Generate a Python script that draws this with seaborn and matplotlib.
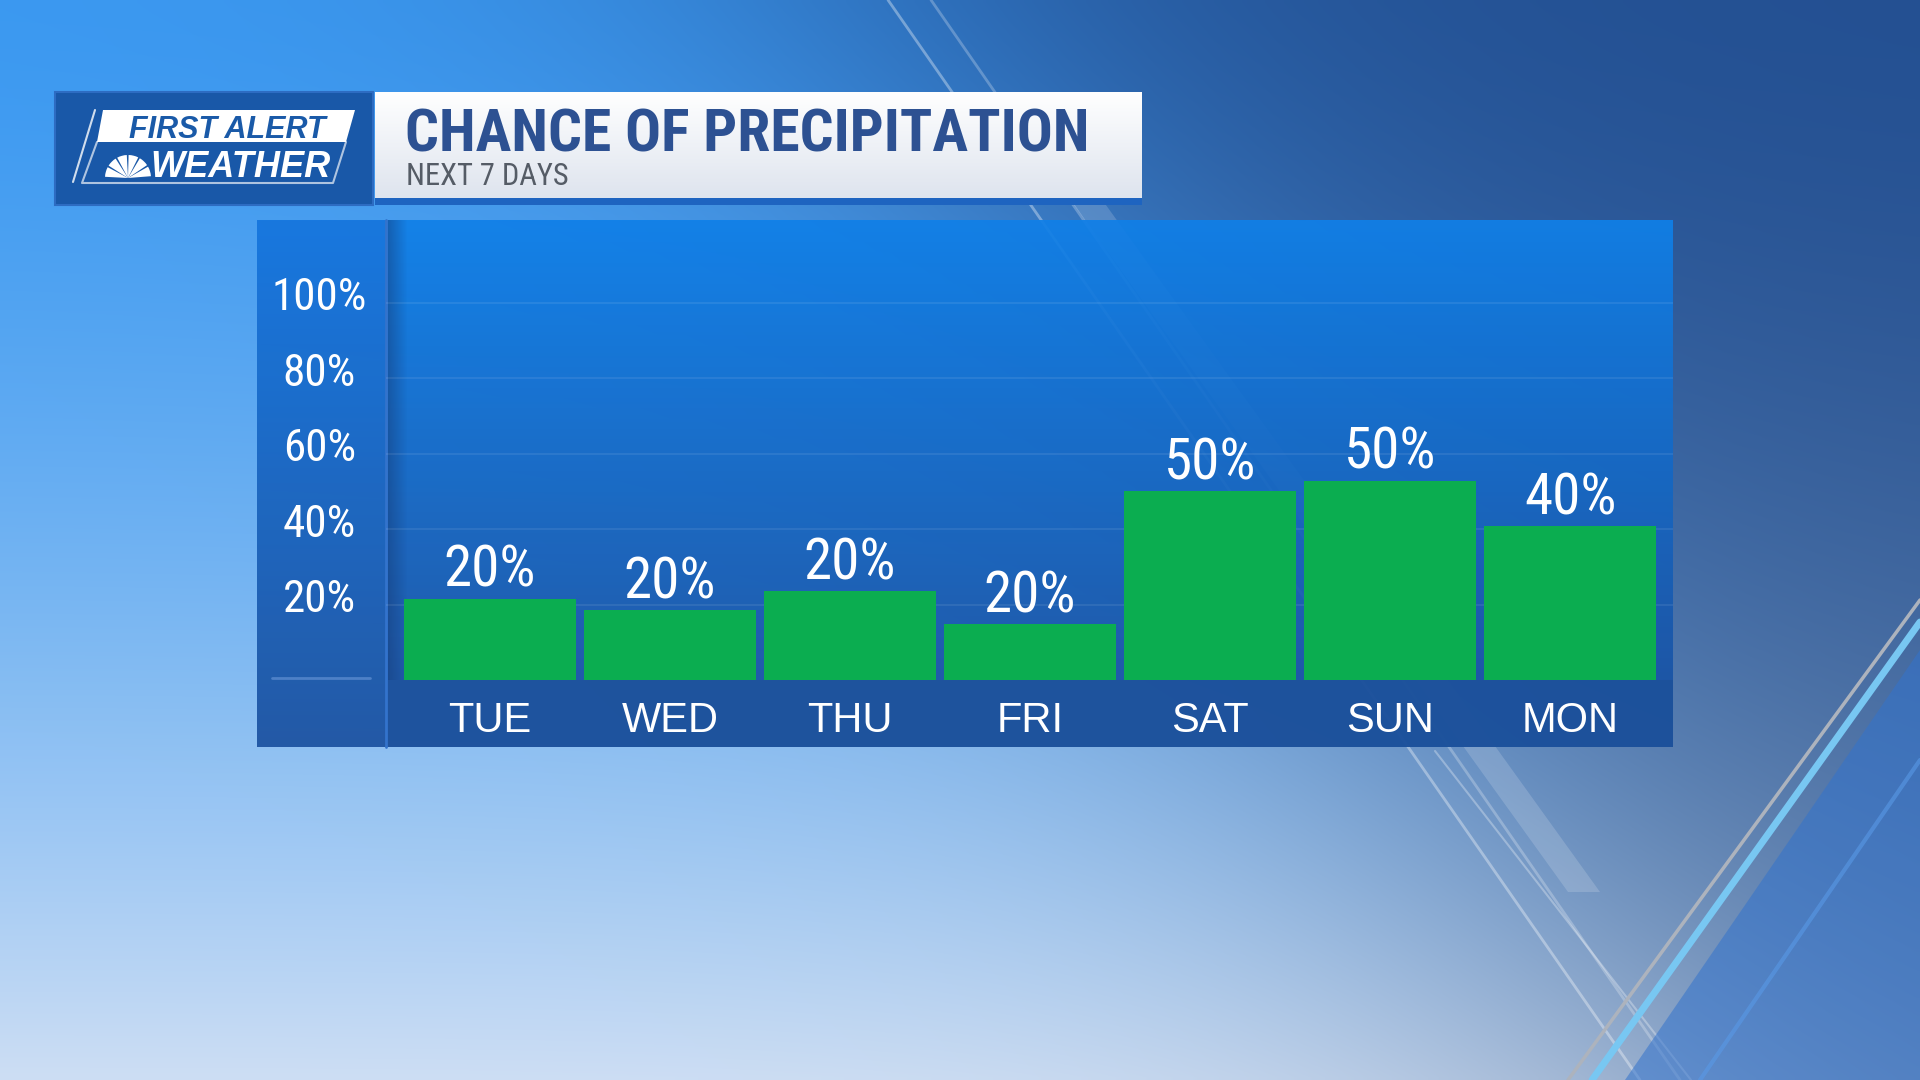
import numpy as np
import matplotlib
matplotlib.use("Agg")
import matplotlib.pyplot as plt
from matplotlib import font_manager
from matplotlib.patches import Rectangle, Polygon, Wedge
from matplotlib.transforms import ScaledTranslation
import seaborn as sns

# chart data
days = ["TUE", "WED", "THU", "FRI", "SAT", "SUN", "MON"]
bar_heights = [21.5, 18.5, 23.5, 14.8, 50.0, 52.8, 40.8]
value_labels = ["20%", "20%", "20%", "20%", "50%", "50%", "40%"]
y_ticks = [20, 40, 60, 80, 100]
y_tick_labels = ["20%", "40%", "60%", "80%", "100%"]

title = "CHANCE OF PRECIPITATION"
subtitle = "NEXT 7 DAYS"
logo_top = "FIRST ALERT"
logo_bottom = "WEATHER"

sns.set_style("white")
installed = {f.name for f in font_manager.fontManager.ttflist}
narrow = next((n for n in ["Liberation Sans Narrow", "Roboto Condensed",
                           "DejaVu Sans Condensed", "Open Sans Condensed"] if n in installed),
              "Liberation Sans")
plt.rcParams["font.family"] = ["Liberation Sans", "DejaVu Sans"]

GREEN = "#0bad50"


def vgrad(top, bottom, n=200):
    t = np.linspace(0, 1, n)[:, None, None]
    top = np.array(top, float)[None, None, :] / 255
    bottom = np.array(bottom, float)[None, None, :] / 255
    return top * (1 - t) + bottom * t


fig = plt.figure(figsize=(19.2, 10.8), dpi=100)
renderer = fig.canvas.get_renderer()


def fit_width(txt, width_px, max_size):
    # shrink a text so its width matches the reference
    bb = txt.get_window_extent(renderer)
    txt.set_fontsize(min(max_size, txt.get_fontsize() * width_px / bb.width))


# ---- background (pixel coordinates, y down) ----
bg = fig.add_axes([0, 0, 1, 1])
bg.axis("off")

H, W = 216, 384
yy, xx = np.mgrid[0:H, 0:W]
px = xx / (W - 1) * 1920
py = yy / (H - 1) * 1080
v = (py / 1080)[..., None] ** 1.5
left = np.array([60, 154, 242]) * (1 - v) + np.array([205, 222, 244]) * v
right = np.array([36, 80, 146]) * (1 - v) + np.array([100, 128, 168]) * v
d = ((px - 880) * 1080 - py * 760) / np.hypot(1080, 760)
w = (1 / (1 + np.exp(-d / 170)))[..., None]
img = (left * (1 - w) + right * w) / 255
bg.imshow(img, extent=(0, 1920, 1080, 0), aspect="auto", interpolation="bilinear", zorder=0)

# diagonal streaks
bg.plot([888, 1640], [0, 1080], color="white", alpha=0.35, lw=2, zorder=1)
bg.plot([931, 1680], [0, 1080], color="white", alpha=0.25, lw=2, zorder=1)
bg.add_patch(Polygon([(1020, 130), (1052, 130), (1600, 892), (1568, 892)],
                     closed=True, color="white", alpha=0.16, lw=0, zorder=1))
bg.plot([1435, 1691], [751, 1080], color="white", alpha=0.3, lw=1.5, zorder=1)
bg.add_patch(Polygon([(1920, 650), (1920, 1080), (1625, 1080)],
                     closed=True, color=(0.2, 0.45, 0.8), alpha=0.55, lw=0, zorder=1))
bg.plot([1920, 1568], [600, 1080], color=(0.68, 0.70, 0.74), lw=2.5, zorder=1)
bg.plot([1920, 1592], [622, 1080], color=(0.47, 0.78, 0.95), lw=5, zorder=1)
bg.plot([1920, 1700], [760, 1080], color=(0.35, 0.6, 0.9), alpha=0.6, lw=3, zorder=1)

# chart panels
bg.imshow(vgrad((22, 118, 222), (30, 84, 162)), extent=(257, 386, 747, 220),
          aspect="auto", alpha=0.95, zorder=2)
bg.imshow(vgrad((16, 128, 232), (26, 84, 166)), extent=(386, 1673, 680, 220),
          aspect="auto", alpha=0.93, zorder=2)
bg.imshow(np.linspace([0.08, 0.22, 0.45, 0.45], [0.08, 0.22, 0.45, 0.0], 20)[None, :, :],
          extent=(388, 408, 680, 220), aspect="auto", zorder=2)
bg.add_patch(Rectangle((386, 680), 1287, 67, color=(27 / 255, 80 / 255, 155 / 255),
                       alpha=0.97, lw=0, zorder=2))
bg.plot([386, 386], [220, 747], color=(0.2, 0.45, 0.8), lw=2, zorder=3)
bg.plot([272, 370], [678, 678], color=(0.3, 0.5, 0.78), lw=2, zorder=3)

# header: logo box
bg.add_patch(Rectangle((55, 92), 318, 113, facecolor="#1958a8", edgecolor="#2d6cc2",
                       lw=1.5, zorder=4))
bg.add_patch(Polygon([(103, 110), (355, 110), (346, 142), (97, 142)], closed=True,
                     color="white", lw=0, zorder=5))
bg.plot([97, 82, 333, 346], [142, 183, 183, 142], color="white", alpha=0.65, lw=1.5, zorder=5)
bg.plot([95, 73], [110, 182], color="white", alpha=0.8, lw=1.5, zorder=5)
t_first = bg.text(227, 138, logo_top, ha="center", va="baseline", fontsize=22,
                  fontweight="bold", fontstyle="italic", color="#1a5aa8", zorder=6)
fit_width(t_first, 222, 22)
bg.text(150, 177, logo_bottom, ha="left", va="baseline", fontsize=26,
        fontweight="bold", fontstyle="italic", color="white", zorder=6)
for i in range(6):
    t1 = 183 + i * 29.5
    bg.add_patch(Wedge((128, 178), 23, t1, t1 + 25, color="white", lw=0, zorder=6))

# header: title box
bg.imshow(vgrad((255, 255, 255), (222, 228, 238)), extent=(375, 1142, 198, 92),
          aspect="auto", zorder=4)
bg.add_patch(Rectangle((375, 198), 767, 7, color="#1e64c0", lw=0, zorder=4))
t_title = bg.text(405, 152, title, ha="left", va="baseline", fontsize=43,
                  fontweight="bold", fontfamily=narrow, color="#2d5192", zorder=6)
fit_width(t_title, 706, 43)
t_sub = bg.text(406, 185, subtitle, ha="left", va="baseline", fontsize=22,
                fontfamily=narrow, color="#555c66", zorder=6)
fit_width(t_sub, 203, 22)

bg.set_xlim(0, 1920)
bg.set_ylim(1080, 0)

# ---- bar chart ----
ax = fig.add_axes([386 / 1920, 400 / 1080, 1287 / 1920, 460 / 1080])
ax.patch.set_alpha(0)
sns.barplot(x=days, y=bar_heights, color=GREEN, saturation=1, width=0.955,
            edgecolor="none", linewidth=0, ax=ax)
ax.set_xlim(-0.578, 6.572)
ax.set_ylim(0, 121.9)
sns.despine(ax=ax, left=True, bottom=True)
ax.set_xlabel("")
ax.set_ylabel("")

ax.set_yticks(y_ticks, y_tick_labels)
ax.tick_params(axis="y", length=0, pad=48, labelcolor="white", labelsize=32.5)
shift_up = ScaledTranslation(0, 9 / 100, fig.dpi_scale_trans)
for lbl in ax.get_yticklabels():
    lbl.set_horizontalalignment("center")
    lbl.set_fontfamily(narrow)
    lbl.set_transform(lbl.get_transform() + shift_up)
ax.tick_params(axis="x", length=0, pad=15, labelcolor="white", labelsize=30)
ax.yaxis.grid(True, color="white", alpha=0.08, lw=1.5)
ax.set_axisbelow(True)

ax.bar_label(ax.containers[0], labels=value_labels, padding=0, color="white",
             fontsize=41, fontfamily=narrow)

fig.savefig("out.png", dpi=100)
